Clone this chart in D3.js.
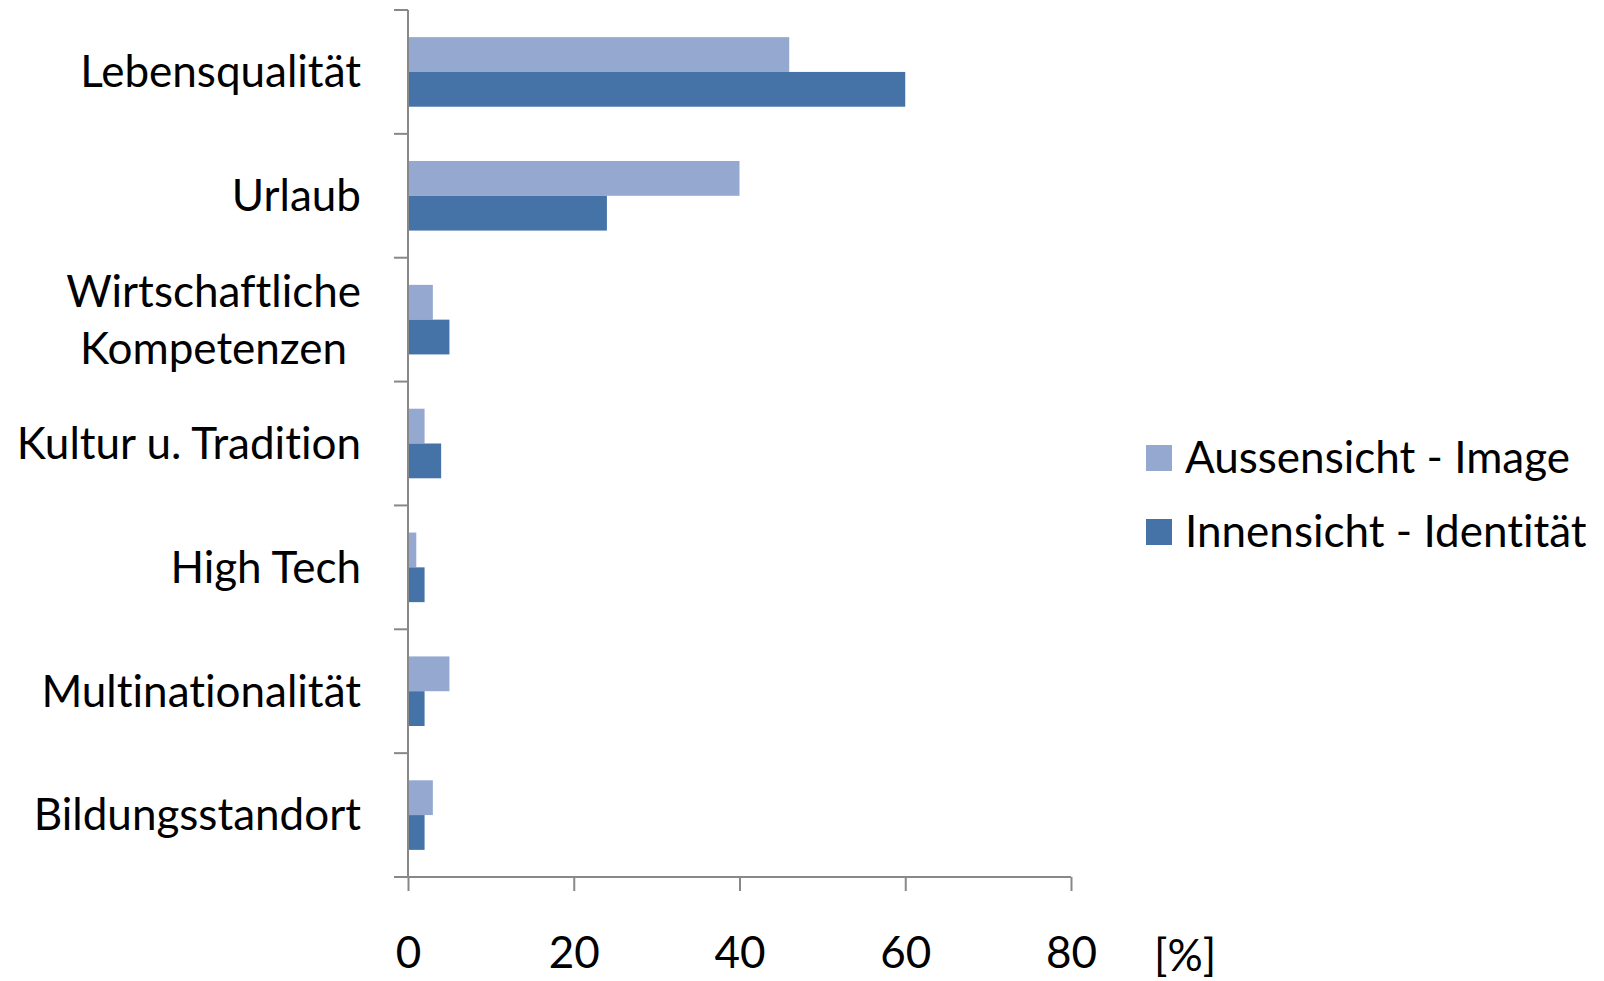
<!DOCTYPE html>
<html>
<head>
<meta charset="utf-8">
<script src="https://cdn.jsdelivr.net/npm/d3@7"></script>
<style>
  body { margin: 0; background: #fff; }
  text { font-family: Lato, "Open Sans", sans-serif; fill: #000; font-variant-ligatures: none; }
</style>
</head>
<body>
<svg id="chart" width="1604" height="981"></svg>
<script>
const categories = ["Lebensqualität", "Urlaub", "Wirtschaftliche\nKompetenzen", "Kultur u. Tradition", "High Tech", "Multinationalität", "Bildungsstandort"];
const seriesNames = ["Aussensicht - Image", "Innensicht - Identität"];
const aussensicht = [46, 40, 3, 2, 1, 5, 3];
const innensicht = [60, 24, 5, 4, 2, 2, 2];
const xTicks = [0, 20, 40, 60, 80];
const colors = ["#95a9d0", "#4573a7"];

const svg = d3.select("#chart");
const axisColor = "#888888";
const fontSize = 44;

const x = d3.scaleLinear().domain([0, 80]).range([408, 1071]);
const y = d3.scaleBand().domain(categories).range([10, 877]);
const ySub = d3.scaleBand().domain(seriesNames).range([0, y.bandwidth()]).paddingOuter(0.78);

const data = categories.map((c, i) => ({ cat: c, values: [aussensicht[i], innensicht[i]] }));

// bars
const groups = svg.append("g").selectAll("g")
  .data(data)
  .join("g")
  .attr("transform", d => "translate(0," + y(d.cat) + ")");

groups.selectAll("rect")
  .data(d => d.values.map((v, j) => ({ name: seriesNames[j], v: v, j: j })))
  .join("rect")
  .attr("x", x(0))
  .attr("y", d => ySub(d.name))
  .attr("width", d => x(d.v) - x(0))
  .attr("height", ySub.bandwidth())
  .attr("fill", d => colors[d.j]);

// y axis line and ticks at band boundaries
svg.append("line")
  .attr("x1", x(0)).attr("x2", x(0))
  .attr("y1", y.range()[0]).attr("y2", y.range()[1])
  .attr("stroke", axisColor).attr("stroke-width", 2);

const boundaries = categories.map(c => y(c)).concat([y.range()[1]]);
svg.append("g").selectAll("line")
  .data(boundaries)
  .join("line")
  .attr("x1", x(0) - 14).attr("x2", x(0))
  .attr("y1", d => d).attr("y2", d => d)
  .attr("stroke", axisColor).attr("stroke-width", 2);

// x axis
const xAxis = svg.append("g")
  .attr("transform", "translate(0," + y.range()[1] + ")")
  .call(d3.axisBottom(x).tickValues(xTicks).tickSize(14).tickPadding(46).tickSizeOuter(0));
xAxis.select(".domain").attr("stroke", axisColor).attr("stroke-width", 2)
  .attr("d", "M" + (x(0) - 14) + ",0H" + x(80));
xAxis.selectAll(".tick line").attr("stroke", axisColor).attr("stroke-width", 2);
xAxis.selectAll(".tick text")
  .attr("font-size", fontSize)
  .attr("font-family", "Lato, 'Open Sans', sans-serif")
  .attr("fill", "#000");

svg.append("text")
  .attr("x", 1154).attr("y", 956)
  .attr("dy", "0.35em")
  .attr("font-size", fontSize)
  .text("[%]");

// category labels
const labels = svg.append("g").selectAll("text")
  .data(categories)
  .join("text")
  .attr("font-size", fontSize)
  .attr("text-anchor", "middle");

labels.each(function(c) {
  const lines = c.split("\n");
  const t = d3.select(this);
  const cy = y(c) + y.bandwidth() / 2;
  const lineH = 57;
  lines.forEach((ln, k) => {
    t.append("tspan")
      .attr("y", cy + (k - (lines.length - 1) / 2) * lineH)
      .attr("dy", "0.35em")
      .text(ln);
  });
});
// right-align the label blocks, centering lines within each block
labels.each(function() {
  const t = d3.select(this);
  const widths = t.selectAll("tspan").nodes().map(n => n.getComputedTextLength());
  const maxW = d3.max(widths);
  t.selectAll("tspan").attr("x", 361 - maxW / 2);
});

// legend
const legend = svg.append("g").attr("transform", "translate(1146,0)");
const legendY = [458, 532];
seriesNames.forEach((name, i) => {
  legend.append("rect")
    .attr("x", 0).attr("y", legendY[i] - 13)
    .attr("width", 26).attr("height", 26)
    .attr("fill", colors[i]);
  legend.append("text")
    .attr("x", 39).attr("y", legendY[i])
    .attr("dy", "0.35em")
    .attr("font-size", fontSize)
    .text(name);
});
</script>
</body>
</html>
